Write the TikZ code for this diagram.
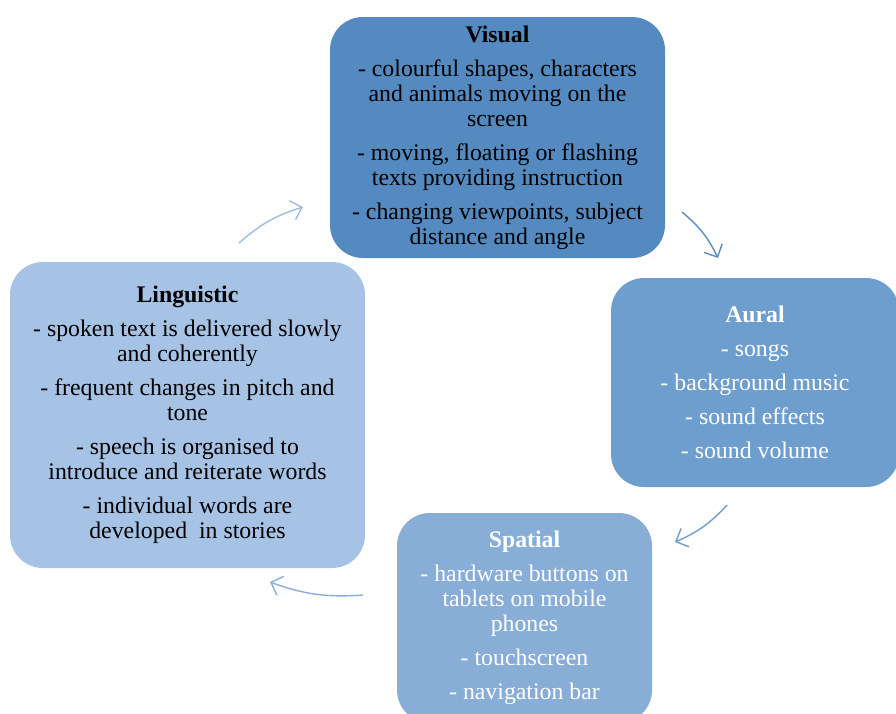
\documentclass[tikz,border=0pt]{standalone}
\usepackage{fontspec}
\setmainfont{Liberation Serif}
\usetikzlibrary{arrows.meta, positioning, calc}
\definecolor{visblue}{HTML}{548AC0}
\definecolor{aurblue}{HTML}{6D9ECD}
\definecolor{spablue}{HTML}{88ADD7}
\definecolor{linblue}{HTML}{A6C2E5}

\begin{document}
\begin{tikzpicture}[x=1pt, y=-1pt,
  box/.style={rounded corners=33pt, align=center, inner sep=0pt,
    font=\fontsize{23.8}{25}\selectfont},
  flow/.style={-{Straight Barb[length=10pt, width=20pt]}, line width=1.4pt, bend left=12}]
  \useasboundingbox (0,0) rectangle (896,713);
  \clip (0,0) rectangle (896,713);
  % the four categories
  \node[box, fill=visblue, minimum width=335pt, minimum height=241pt] (V) at (497.5,137.5)
    {\textbf{Visual}\\[9pt]- colourful shapes, characters\\ and animals moving on the\\ screen\\[9pt]
     - moving, floating or flashing\\ texts providing instruction\\[9pt]
     - changing viewpoints, subject\\ distance and angle};
  \node[box, fill=aurblue, text=white, minimum width=288pt, minimum height=209pt] (A) at (755,382.5)
    {\textbf{Aural}\\[9pt]- songs\\[9pt]- background music\\[9pt]- sound effects\\[9pt]- sound volume};
  \node[box, fill=spablue, text=white, minimum width=255pt, minimum height=210pt] (S) at (524.5,618)
    {\textbf{Spatial}\\[9pt]- hardware buttons on\\ tablets on mobile\\ phones\\[9pt]- touchscreen\\[9pt]- navigation bar};
  \node[box, fill=linblue, minimum width=355pt, minimum height=306pt] (L) at (187.5,415)
    {\textbf{Linguistic}\\[9pt]- spoken text is delivered slowly\\ and coherently\\[9pt]
     - frequent changes in pitch and\\ tone\\[9pt]
     - speech is organised to\\ introduce and reiterate words\\[9pt]
     - individual words are\\ developed~ in stories};
  % cycle arrows
  \coordinate (LVa) at (239,243);
  \coordinate (LVb) at (303,207);
  \coordinate (VAa) at (682,212);
  \coordinate (VAb) at (718,258);
  \coordinate (ASa) at (727,505);
  \coordinate (ASb) at (675,542);
  \coordinate (SLa) at (363,595);
  \coordinate (SLb) at (270,582);
  \draw[flow, color=linblue!90!visblue] (LVa) to (LVb);
  \draw[flow, color=visblue!85!aurblue] (VAa) to (VAb);
  \draw[flow, color=aurblue] (ASa) to (ASb);
  \draw[flow, color=spablue] (SLa) to (SLb);
\end{tikzpicture}
\end{document}
